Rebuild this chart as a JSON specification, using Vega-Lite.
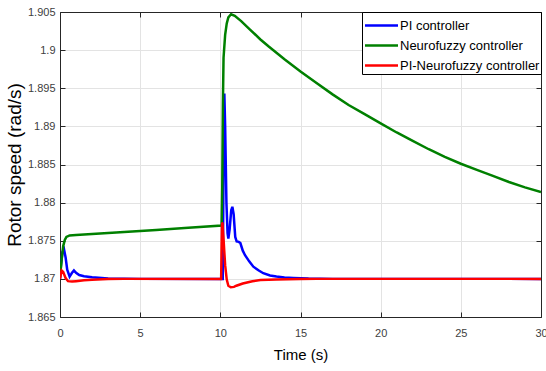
{
  "$schema": "https://vega.github.io/schema/vega-lite/v6.json",
  "autosize": "none",
  "padding": {"left": 60, "top": 12, "right": 5, "bottom": 54},
  "width": 481,
  "height": 305,
  "background": "white",
  "config": {
    "font": "Liberation Sans",
    "view": {"stroke": null},
    "axis": {
      "labelFont": "Liberation Sans",
      "labelFontSize": 11,
      "labelColor": "#404040",
      "titleFont": "Liberation Sans",
      "titleFontSize": 15,
      "titleFontWeight": "normal",
      "titleColor": "#000000",
      "domainColor": "#262626",
      "domainWidth": 1,
      "tickColor": "#262626",
      "tickSize": -5,
      "gridColor": "#e3e3e3",
      "gridWidth": 1
    },
    "legend": {
      "labelFont": "Liberation Sans",
      "labelFontSize": 13,
      "labelColor": "#000000",
      "labelLimit": 300
    }
  },
  "data": {
    "values": [
      {"t": 0, "v": 1.87, "s": "PI controller"},
      {"t": 0.05, "v": 1.8715, "s": "PI controller"},
      {"t": 0.15, "v": 1.8735, "s": "PI controller"},
      {"t": 0.25, "v": 1.8739, "s": "PI controller"},
      {"t": 0.35, "v": 1.8728, "s": "PI controller"},
      {"t": 0.45, "v": 1.8712, "s": "PI controller"},
      {"t": 0.6, "v": 1.8703, "s": "PI controller"},
      {"t": 0.75, "v": 1.8708, "s": "PI controller"},
      {"t": 0.87, "v": 1.8711, "s": "PI controller"},
      {"t": 1.0, "v": 1.8708, "s": "PI controller"},
      {"t": 1.2, "v": 1.8705, "s": "PI controller"},
      {"t": 1.5, "v": 1.87035, "s": "PI controller"},
      {"t": 2, "v": 1.8702, "s": "PI controller"},
      {"t": 3, "v": 1.87005, "s": "PI controller"},
      {"t": 5, "v": 1.87, "s": "PI controller"},
      {"t": 10.15, "v": 1.87, "s": "PI controller"},
      {"t": 10.2, "v": 1.885, "s": "PI controller"},
      {"t": 10.25, "v": 1.8943, "s": "PI controller"},
      {"t": 10.3, "v": 1.89, "s": "PI controller"},
      {"t": 10.38, "v": 1.88, "s": "PI controller"},
      {"t": 10.45, "v": 1.876, "s": "PI controller"},
      {"t": 10.5, "v": 1.8753, "s": "PI controller"},
      {"t": 10.58, "v": 1.8765, "s": "PI controller"},
      {"t": 10.68, "v": 1.879, "s": "PI controller"},
      {"t": 10.75, "v": 1.87945, "s": "PI controller"},
      {"t": 10.83, "v": 1.8785, "s": "PI controller"},
      {"t": 10.93, "v": 1.8755, "s": "PI controller"},
      {"t": 11.02, "v": 1.8749, "s": "PI controller"},
      {"t": 11.15, "v": 1.87485, "s": "PI controller"},
      {"t": 11.25, "v": 1.8747, "s": "PI controller"},
      {"t": 11.4, "v": 1.8737, "s": "PI controller"},
      {"t": 11.54, "v": 1.8731, "s": "PI controller"},
      {"t": 11.8, "v": 1.8723, "s": "PI controller"},
      {"t": 12.06, "v": 1.8716, "s": "PI controller"},
      {"t": 12.4, "v": 1.8711, "s": "PI controller"},
      {"t": 12.68, "v": 1.87074, "s": "PI controller"},
      {"t": 13.1, "v": 1.87045, "s": "PI controller"},
      {"t": 13.5, "v": 1.8703, "s": "PI controller"},
      {"t": 14, "v": 1.87018, "s": "PI controller"},
      {"t": 14.55, "v": 1.87012, "s": "PI controller"},
      {"t": 15.5, "v": 1.87004, "s": "PI controller"},
      {"t": 17, "v": 1.87, "s": "PI controller"},
      {"t": 30, "v": 1.87, "s": "PI controller"},

      {"t": 0, "v": 1.8702, "s": "Neurofuzzy controller"},
      {"t": 0.1, "v": 1.8725, "s": "Neurofuzzy controller"},
      {"t": 0.2, "v": 1.8743, "s": "Neurofuzzy controller"},
      {"t": 0.3, "v": 1.8751, "s": "Neurofuzzy controller"},
      {"t": 0.4, "v": 1.8755, "s": "Neurofuzzy controller"},
      {"t": 0.6, "v": 1.8757, "s": "Neurofuzzy controller"},
      {"t": 1, "v": 1.87575, "s": "Neurofuzzy controller"},
      {"t": 2, "v": 1.8759, "s": "Neurofuzzy controller"},
      {"t": 4, "v": 1.87615, "s": "Neurofuzzy controller"},
      {"t": 6, "v": 1.8764, "s": "Neurofuzzy controller"},
      {"t": 8, "v": 1.8767, "s": "Neurofuzzy controller"},
      {"t": 10.08, "v": 1.877, "s": "Neurofuzzy controller"},
      {"t": 10.12, "v": 1.882, "s": "Neurofuzzy controller"},
      {"t": 10.16, "v": 1.893, "s": "Neurofuzzy controller"},
      {"t": 10.2, "v": 1.899, "s": "Neurofuzzy controller"},
      {"t": 10.3, "v": 1.902, "s": "Neurofuzzy controller"},
      {"t": 10.4, "v": 1.9035, "s": "Neurofuzzy controller"},
      {"t": 10.5, "v": 1.9043, "s": "Neurofuzzy controller"},
      {"t": 10.67, "v": 1.9047, "s": "Neurofuzzy controller"},
      {"t": 10.9, "v": 1.9045, "s": "Neurofuzzy controller"},
      {"t": 11.3, "v": 1.9038, "s": "Neurofuzzy controller"},
      {"t": 11.85, "v": 1.9027, "s": "Neurofuzzy controller"},
      {"t": 12.5, "v": 1.9014, "s": "Neurofuzzy controller"},
      {"t": 13, "v": 1.9005, "s": "Neurofuzzy controller"},
      {"t": 14, "v": 1.8988, "s": "Neurofuzzy controller"},
      {"t": 15, "v": 1.8972, "s": "Neurofuzzy controller"},
      {"t": 16, "v": 1.8957, "s": "Neurofuzzy controller"},
      {"t": 17, "v": 1.8942, "s": "Neurofuzzy controller"},
      {"t": 18, "v": 1.8928, "s": "Neurofuzzy controller"},
      {"t": 19, "v": 1.8916, "s": "Neurofuzzy controller"},
      {"t": 20, "v": 1.8904, "s": "Neurofuzzy controller"},
      {"t": 21, "v": 1.8892, "s": "Neurofuzzy controller"},
      {"t": 22, "v": 1.8881, "s": "Neurofuzzy controller"},
      {"t": 23, "v": 1.887, "s": "Neurofuzzy controller"},
      {"t": 24, "v": 1.886, "s": "Neurofuzzy controller"},
      {"t": 25, "v": 1.8851, "s": "Neurofuzzy controller"},
      {"t": 26, "v": 1.8843, "s": "Neurofuzzy controller"},
      {"t": 27, "v": 1.8835, "s": "Neurofuzzy controller"},
      {"t": 28, "v": 1.8827, "s": "Neurofuzzy controller"},
      {"t": 29, "v": 1.882, "s": "Neurofuzzy controller"},
      {"t": 30, "v": 1.8814, "s": "Neurofuzzy controller"},

      {"t": 0, "v": 1.87, "s": "PI-Neurofuzzy controller"},
      {"t": 0.1, "v": 1.8711, "s": "PI-Neurofuzzy controller"},
      {"t": 0.2, "v": 1.8709, "s": "PI-Neurofuzzy controller"},
      {"t": 0.35, "v": 1.8701, "s": "PI-Neurofuzzy controller"},
      {"t": 0.5, "v": 1.8697, "s": "PI-Neurofuzzy controller"},
      {"t": 0.75, "v": 1.86965, "s": "PI-Neurofuzzy controller"},
      {"t": 1.0, "v": 1.8697, "s": "PI-Neurofuzzy controller"},
      {"t": 1.5, "v": 1.86982, "s": "PI-Neurofuzzy controller"},
      {"t": 2, "v": 1.8699, "s": "PI-Neurofuzzy controller"},
      {"t": 3, "v": 1.86997, "s": "PI-Neurofuzzy controller"},
      {"t": 4, "v": 1.87, "s": "PI-Neurofuzzy controller"},
      {"t": 10.05, "v": 1.87, "s": "PI-Neurofuzzy controller"},
      {"t": 10.1, "v": 1.877, "s": "PI-Neurofuzzy controller"},
      {"t": 10.13, "v": 1.8774, "s": "PI-Neurofuzzy controller"},
      {"t": 10.2, "v": 1.8752, "s": "PI-Neurofuzzy controller"},
      {"t": 10.3, "v": 1.8718, "s": "PI-Neurofuzzy controller"},
      {"t": 10.4, "v": 1.8699, "s": "PI-Neurofuzzy controller"},
      {"t": 10.5, "v": 1.8691, "s": "PI-Neurofuzzy controller"},
      {"t": 10.65, "v": 1.8689, "s": "PI-Neurofuzzy controller"},
      {"t": 10.85, "v": 1.86895, "s": "PI-Neurofuzzy controller"},
      {"t": 11.0, "v": 1.8691, "s": "PI-Neurofuzzy controller"},
      {"t": 11.4, "v": 1.8694, "s": "PI-Neurofuzzy controller"},
      {"t": 12, "v": 1.8697, "s": "PI-Neurofuzzy controller"},
      {"t": 12.5, "v": 1.86985, "s": "PI-Neurofuzzy controller"},
      {"t": 13.5, "v": 1.86993, "s": "PI-Neurofuzzy controller"},
      {"t": 15, "v": 1.86998, "s": "PI-Neurofuzzy controller"},
      {"t": 16, "v": 1.87, "s": "PI-Neurofuzzy controller"},
      {"t": 30, "v": 1.87, "s": "PI-Neurofuzzy controller"}
    ]
  },
  "layer": [
    {
      "mark": {"type": "line", "strokeWidth": 2.5, "clip": true},
      "encoding": {
        "x": {
          "field": "t", "type": "quantitative",
          "scale": {"domain": [0, 30], "nice": false, "zero": false},
          "axis": {"orient": "bottom", "title": "Time (s)", "values": [0, 5, 10, 15, 20, 25, 30], "grid": true, "labelPadding": 15, "titlePadding": 9, "labelFlush": false}
        },
        "y": {
          "field": "v", "type": "quantitative",
          "scale": {"domain": [1.865, 1.905], "nice": false, "zero": false},
          "axis": {"orient": "left", "title": "Rotor speed (rad/s)", "titleFontSize": 19, "values": [1.865, 1.87, 1.875, 1.88, 1.885, 1.89, 1.895, 1.9, 1.905], "format": ".4~r", "grid": true, "labelPadding": 10, "titlePadding": 3}
        },
        "color": {
          "field": "s", "type": "nominal",
          "scale": {"domain": ["PI controller", "Neurofuzzy controller", "PI-Neurofuzzy controller"], "range": ["#0000ff", "#008000", "#ff0000"]},
          "legend": {
            "title": null,
            "orient": "top-right",
            "offset": 0,
            "strokeColor": "#000000",
            "fillColor": "#ffffff",
            "padding": 1,
            "symbolType": "M-1.5,0H1.5",
            "symbolSize": 484,
            "symbolStrokeWidth": 2.5,
            "symbolOffset": 6,
            "labelOffset": 6,
            "rowPadding": 0
          }
        }
      }
    },
    {
      "mark": {"type": "point", "opacity": 0},
      "encoding": {
        "x": {"field": "t", "type": "quantitative", "axis": {"orient": "top", "title": null, "labels": false, "grid": false, "values": [0, 5, 10, 15, 20, 25, 30]}},
        "y": {"field": "v", "type": "quantitative", "axis": {"orient": "right", "title": null, "labels": false, "grid": false, "values": [1.865, 1.87, 1.875, 1.88, 1.885, 1.89, 1.895, 1.9, 1.905]}}
      }
    }
  ],
  "resolve": {"axis": {"x": "independent", "y": "independent"}}
}
